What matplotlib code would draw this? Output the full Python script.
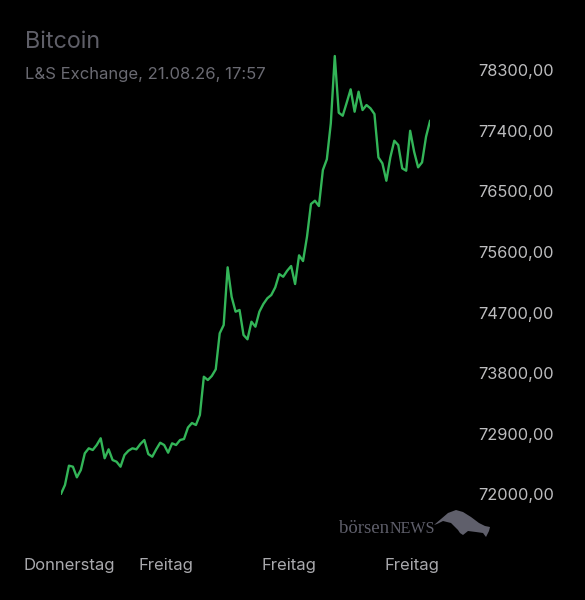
import matplotlib
matplotlib.use("Agg")
import matplotlib.pyplot as plt
from matplotlib.patches import Polygon

# ---- data ----
prices = [72010, 72141, 72428, 72413, 72255, 72364, 72612, 72686, 72661, 72735,
          72835, 72538, 72671, 72512, 72487, 72413, 72587, 72650, 72686, 72671,
          72750, 72809, 72601, 72561, 72671, 72769, 72735, 72621, 72760, 72735,
          72809, 72824, 72995, 73062, 73032, 73181, 73749, 73700, 73760, 73859,
          74394, 74517, 75374, 74937, 74715, 74740, 74369, 74305, 74566, 74492,
          74715, 74829, 74914, 74963, 75077, 75274, 75234, 75323, 75393, 75126,
          75552, 75467, 75828, 76314, 76363, 76284, 76819, 76978, 77512, 78512,
          77670, 77625, 77818, 78017, 77685, 77982, 77710, 77784, 77735, 77650,
          77007, 76918, 76660, 77007, 77254, 77190, 76844, 76809, 77402, 77091,
          76859, 76933, 77313, 77547]
y_ticks = [72000, 72900, 73800, 74700, 75600, 76500, 77400, 78300]
x_tick_pos = [2, 26.5, 57.5, 88.5]
x_tick_labels = ["Donnerstag", "Freitag", "Freitag", "Freitag"]
title = "Bitcoin"
subtitle = "L&S Exchange, 21.08.26, 17:57"

FONT = ["Inter", "DejaVu Sans"]
plt.rcParams["font.family"] = FONT

W, H = 585, 600
fig = plt.figure(figsize=(W / 100, H / 100), dpi=100, facecolor="black")

# axes placement in pixels
left_px, right_px = 61, 430
bottom_px, top_px = 494.5, 50.1
ax = fig.add_axes([left_px / W, 1 - bottom_px / H,
                   (right_px - left_px) / W, (bottom_px - top_px) / H])
ax.set_facecolor("black")

x = list(range(len(prices)))
ax.plot(x, prices, color="#33b558", lw=1.7, solid_joinstyle="round")
ax.set_xlim(0, len(prices) - 1)
ax.set_ylim(72000, 78600)

for s in ax.spines.values():
    s.set_visible(False)

ax.yaxis.tick_right()
ax.set_yticks(y_ticks)
ax.set_yticklabels([f"{v:.2f}".replace(".", ",") for v in y_ticks])
ax.tick_params(axis="y", length=0, pad=34.5, labelsize=11.8, labelcolor="#bdbdbf")

ax.set_xticks(x_tick_pos)
ax.set_xticklabels(x_tick_labels)
ax.tick_params(axis="x", length=0, pad=46, labelsize=12, labelcolor="#a9a9ad")

# title texts
fig.text(25 / W, 1 - 42 / H, title, fontsize=16.8, color="#5f5f68",
         ha="left", va="center")
fig.text(25 / W, 1 - 75 / H, subtitle, fontsize=12.0, color="#6a6a72",
         ha="left", va="center")

# watermark
t1 = fig.text(339 / W, 1 - 533 / H, "börsen", fontsize=13.5,
              family=["Liberation Serif", "DejaVu Serif"], color="#5f5f6b",
              ha="left", va="baseline")
ax.annotate("NEWS", xy=(1, 0), xycoords=t1, xytext=(0.3, 0),
            textcoords="offset points", fontsize=11.5,
            family=["Liberation Serif", "DejaVu Serif"], color="#5f5f6b",
            ha="left", va="bottom")

bull = [(434, 525), (441, 519), (448, 513), (456, 510), (463, 512), (471, 517),
        (479, 523), (485, 526), (490, 527), (489, 531), (486, 537), (483, 533),
        (476, 532), (468, 531), (463, 535), (460, 533), (458, 530), (451, 523),
        (443, 521), (437, 524)]
fig.patches.append(Polygon([(px / W, 1 - py / H) for px, py in bull],
                           closed=True, transform=fig.transFigure,
                           facecolor="#5f5f6b", edgecolor="none"))

fig.savefig("out.png", dpi=100, facecolor="black")
